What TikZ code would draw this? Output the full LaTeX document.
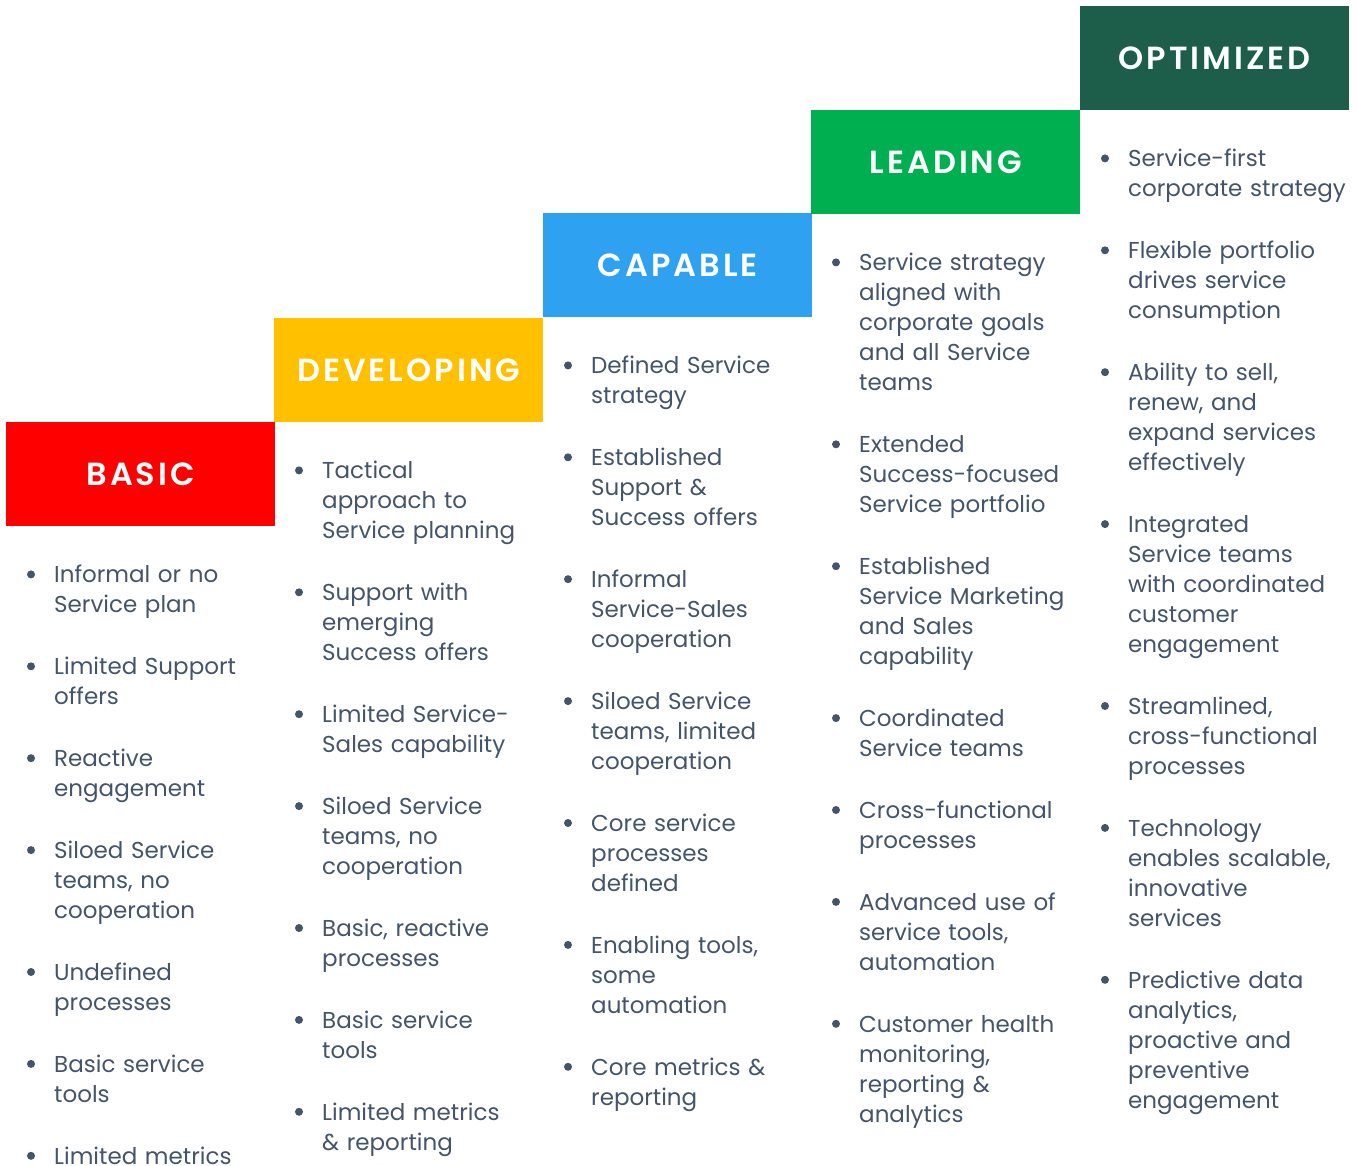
\documentclass[tikz,border=0pt]{standalone}
\usepackage{fontspec}
\setmainfont{Poppins}
\newfontfamily\headfont[LetterSpace=9.5]{Poppins SemiBold}
\usetikzlibrary{positioning}

\definecolor{slate}{HTML}{44546A}
\definecolor{basicred}{HTML}{FF0000}
\definecolor{devyellow}{HTML}{FFC000}
\definecolor{capblue}{HTML}{2EA2F0}
\definecolor{leadgreen}{HTML}{00B050}
\definecolor{optgreen}{HTML}{1D5E4B}

\begin{document}
\begin{tikzpicture}[x=1pt,y=-1pt,
    stage/.style={fill=#1, minimum width=269pt, minimum height=104pt, inner sep=0pt,
        anchor=north west, text=white, font=\headfont\fontsize{32}{32}\selectfont},
    item/.style={text width=250pt, align=left, inner sep=0pt, text=slate,
        font=\fontsize{23}{30}\selectfont},
    dot/.style={circle, fill=slate, inner sep=0pt, minimum size=8pt}]
    \useasboundingbox (0,0) rectangle (1357,1166);

    % the five stages, one step up each
    \node[stage=basicred] (basic) at (6,422) {BASIC};
    \node[stage=devyellow] (developing) at (274,318) {DEVELOPING};
    \node[stage=capblue] (capable) at (543,213) {CAPABLE};
    \node[stage=leadgreen] (leading) at (811,110) {LEADING};
    \node[stage=optgreen] (optimized) at (1080,6) {OPTIMIZED};

    % bullet lists under each stage
    \foreach \s/\items in {
        basic/{{Informal or no\\Service plan},{Limited Support\\offers},
            {Reactive\\engagement},{Siloed Service\\teams, no\\cooperation},
            {Undefined\\processes},{Basic service\\tools},{Limited metrics}},
        developing/{{Tactical\\approach to\\Service planning},
            {Support with\\emerging\\Success offers},{Limited Service-\\Sales capability},
            {Siloed Service\\teams, no\\cooperation},{Basic, reactive\\processes},
            {Basic service\\tools},{Limited metrics\\\& reporting}},
        capable/{{Defined Service\\strategy},{Established\\Support \&\\Success offers},
            {Informal\\Service-Sales\\cooperation},{Siloed Service\\teams, limited\\cooperation},
            {Core service\\processes\\defined},{Enabling tools,\\some\\automation},
            {Core metrics \&\\reporting}},
        leading/{{Service strategy\\aligned with\\corporate goals\\and all Service\\teams},
            {Extended\\Success-focused\\Service portfolio},
            {Established\\Service Marketing\\and Sales\\capability},
            {Coordinated\\Service teams},{Cross-functional\\processes},
            {Advanced use of\\service tools,\\automation},
            {Customer health\\monitoring,\\reporting \&\\analytics}},
        optimized/{{Service-first\\corporate strategy},
            {Flexible portfolio\\drives service\\consumption},
            {Ability to sell,\\renew, and\\expand services\\effectively},
            {Integrated\\Service teams\\with coordinated\\customer\\engagement},
            {Streamlined,\\cross-functional\\processes},
            {Technology\\enables scalable,\\innovative\\services},
            {Predictive data\\analytics,\\proactive and\\preventive\\engagement}}}{
        \foreach \txt [count=\k] in \items {
            \ifnum\k=1
                \node[item, anchor=north west] (\s\k)
                    at ([xshift=48pt,yshift=-35pt]\s.south west) {\strut\txt\strut};
            \else
                \pgfmathtruncatemacro\p{\k-1}
                \node[item, below=31.5pt of \s\p] (\s\k) {\strut\txt\strut};
            \fi
            \node[dot] (\s\k dot) at ([xshift=-23pt,yshift=-13pt]\s\k.north west) {};
        }
    }
\end{tikzpicture}
\end{document}
